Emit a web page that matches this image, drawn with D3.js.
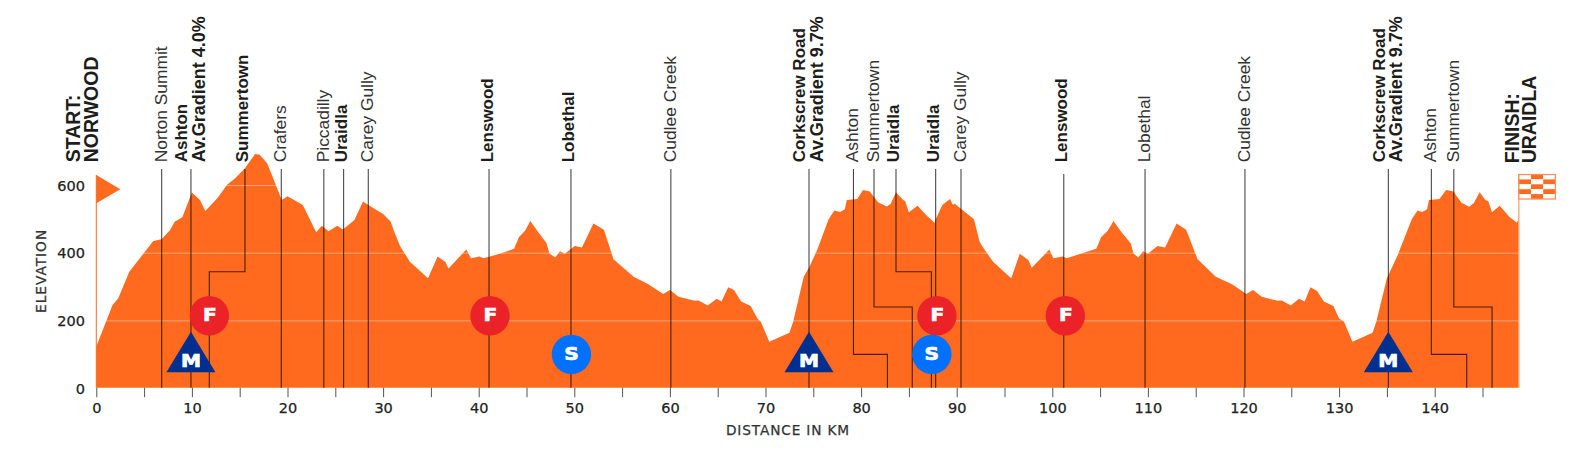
<!DOCTYPE html>
<html>
<head>
<meta charset="utf-8">
<script src="https://cdn.jsdelivr.net/npm/d3@7"></script>
<style>
  html, body { margin: 0; padding: 0; background: #fff; }
  svg { display: block; }
</style>
</head>
<body>
<div id="chart"></div>
<script>
// elevation profile
var profileKm = [0, 1.7, 2.3, 3.45, 5.96, 6.83, 7.7, 8.2, 9, 10, 10.85, 11.4, 12.66, 13.7, 14.5, 15.55, 16.6, 17.1, 17.9, 19.4, 20, 21.6, 23, 23.6, 24.3, 25.2, 25.8, 27, 27.9, 28.45, 30, 30.8, 31.1, 31.77, 32.8, 34.7, 35.7, 36.5, 36.85, 38.7, 39.2, 40.1, 40.5, 42.2, 43.7, 44.2, 44.85, 45.4, 46.2, 47.1, 47.4, 48, 48.5, 49, 50.05, 50.8, 52, 53.1, 54.1, 56.2, 57.75, 59.3, 60, 60.9, 62.6, 63, 63.95, 64.9, 65.4, 66.1, 66.7, 67.45, 68.45, 69.15, 69.5, 70.4, 72.5, 72.9, 74, 74.6, 75.4, 76.6, 77.2, 77.8, 78.3, 78.5, 79.6, 80.2, 80.9, 81.8, 82.7, 83.1, 83.65, 84.4, 84.6, 85, 85.9, 86.9, 87.7, 87.85, 88.5, 89.3, 89.6, 89.8, 91.8, 92.4, 92.7, 93.8, 95.7, 96.6, 97.5, 97.85, 99.7, 100.1, 101.1, 101.5, 104.6, 105.1, 105.8, 106.4, 107.2, 108.2, 108.5, 109, 109.5, 110, 111, 111.8, 113, 114, 115.2, 117.1, 118.8, 120.3, 121, 121.9, 123.6, 124, 124.95, 125.8, 126.4, 127, 127.7, 128.4, 129.4, 130, 130.5, 131.4, 133.5, 133.9, 135, 136.1, 137.6, 138.2, 138.7, 139.2, 139.4, 140.5, 141.2, 141.95, 142.8, 143.6, 144.1, 144.7, 145.3, 145.6, 146, 146.8, 147.8, 148.6, 148.8];
var profileElev = [124, 247, 267, 345, 436, 441, 468, 493, 506, 579, 557, 525, 562, 603, 621, 651, 693, 691, 664, 557, 568, 542, 462, 481, 465, 481, 470, 498, 553, 542, 516, 493, 468, 421, 375, 326, 390, 375, 355, 411, 385, 390, 385, 398, 413, 447, 466, 495, 463, 429, 399, 387, 406, 398, 421, 417, 488, 469, 382, 330, 308, 279, 291, 271, 259, 260, 245, 265, 257, 299, 291, 257, 244, 207, 198, 138, 165, 198, 330, 360, 409, 500, 526, 522, 530, 557, 560, 587, 582, 550, 538, 546, 580, 557, 554, 521, 540, 510, 490, 503, 542, 560, 543, 546, 500, 434, 419, 375, 326, 398, 380, 357, 411, 385, 390, 385, 413, 447, 466, 495, 463, 429, 399, 387, 406, 398, 421, 417, 488, 469, 382, 330, 308, 279, 291, 271, 259, 260, 245, 265, 257, 299, 288, 257, 244, 207, 198, 138, 165, 198, 326, 392, 500, 526, 522, 530, 557, 560, 587, 582, 549, 537, 548, 580, 557, 554, 521, 540, 508, 490, 503];

// leaders: label position on top, where the line lands on the baseline
var placeNames = [["Norton Summit"], ["Ashton", "Av.Gradient 4.0%"], ["Summertown"], ["Crafers"], ["Piccadilly"], ["Uraidla"], ["Carey Gully"], ["Lenswood"], ["Lobethal"], ["Cudlee Creek"], ["Corkscrew Road", "Av.Gradient 9.7%"], ["Ashton"], ["Summertown"], ["Uraidla"], ["Uraidla"], ["Carey Gully"], ["Lenswood"], ["Lobethal"], ["Cudlee Creek"], ["Corkscrew Road", "Av.Gradient 9.7%"], ["Ashton"], ["Summertown"]];
var placeBold  = [0, 1, 1, 0, 0, 1, 0, 1, 1, 0, 1, 0, 0, 1, 1, 0, 1, 0, 0, 1, 0, 0];
var placeKm    = [6.84, 9.9, 15.55, 19.35, 23.8, 25.87, 28.45, 41.08, 49.65, 60.1, 74.55, 79.2, 81.35, 83.65, 87.8, 90.45, 101.2, 109.7, 120.15, 135.15, 139.65, 142];
var placeEndKm = [6.84, 9.9, 11.82, 19.35, 23.8, 25.87, 28.45, 41.08, 49.65, 60.1, 74.55, 82.75, 85.35, 87.35, 87.8, 90.45, 101.2, 109.7, 120.15, 135.15, 143.35, 146];
var placeElbow = [0, 0, 345, 0, 0, 0, 0, 0, 0, 0, 0, 101, 241, 345, 0, 0, 0, 0, 0, 0, 101, 241];

var feedKm = [11.82, 41.18, 87.93, 101.36];
var sprintKm = [49.7, 87.4];
var climbKm = [9.9, 74.55, 135.15];

var startLabel = ["START:", "NORWOOD"];
var finishLabel = ["FINISH:", "URAIDLA"];
var xTicks = d3.range(0, 150, 5);
var xTickLabels = d3.range(0, 150, 10);
var yTicks = [0, 200, 400, 600];

var width = 1580, height = 461;
var orange = "#ff6a1f";
var labelFont = "'Liberation Sans', Arial, sans-serif";
var axisFont = "'DejaVu Sans', sans-serif";

var x = d3.scaleLinear().domain([0, 148.8]).range([96.3, 96.3 + 148.8 * 9.56]);
var y = d3.scaleLinear().domain([0, 600]).range([388.5, 185.5]);
var baseY = 387.7;

var svg = d3.select("#chart").append("svg").attr("width", width).attr("height", height);

// the area
var area = d3.area()
    .x(function(d) { return x(d[0]); })
    .y0(baseY)
    .y1(function(d) { return y(d[1]); });

svg.append("path")
    .datum(d3.zip(profileKm, profileElev))
    .attr("d", area)
    .attr("fill", orange);

// grid only shows on the orange
svg.append("g").selectAll("line")
    .data(yTicks.slice(1))
    .enter().append("line")
    .attr("x1", x(0)).attr("x2", x(148.8))
    .attr("y1", y).attr("y2", y)
    .attr("stroke", "#fff").attr("stroke-opacity", 0.4).attr("stroke-width", 1);

// axes
var xAxis = d3.axisBottom(x)
    .tickValues(xTicks)
    .tickSize(9.5)
    .tickSizeOuter(0)
    .tickFormat(function(d) { return xTickLabels.indexOf(d) >= 0 ? d : ""; });

var xg = svg.append("g").attr("transform", "translate(0," + baseY + ")").call(xAxis);
xg.select(".domain").remove();
xg.selectAll("line").attr("stroke", "#555");
xg.selectAll("text")
    .attr("y", 15)
    .attr("fill", "#222")
    .attr("stroke", "#222").attr("stroke-width", 0.25)
    .style("font-family", axisFont)
    .style("font-size", "14.5px");

var yAxis = d3.axisLeft(y).tickValues(yTicks).tickSize(0);
var yg = svg.append("g").attr("transform", "translate(96,0)").call(yAxis);
yg.select(".domain").remove();
yg.selectAll("text")
    .attr("x", -11)
    .attr("fill", "#222")
    .attr("stroke", "#222").attr("stroke-width", 0.25)
    .style("font-family", axisFont)
    .style("font-size", "14.5px");

svg.append("text")
    .attr("transform", "translate(45.5,313) rotate(-90)")
    .attr("fill", "#333")
    .attr("stroke", "#333").attr("stroke-width", 0.25)
    .style("font-family", axisFont)
    .style("font-size", "13.7px")
    .style("letter-spacing", "1px")
    .text("ELEVATION");

svg.append("text")
    .attr("x", 788).attr("y", 435)
    .attr("text-anchor", "middle")
    .attr("fill", "#333")
    .attr("stroke", "#333").attr("stroke-width", 0.25)
    .style("font-family", axisFont)
    .style("font-size", "13.7px")
    .style("letter-spacing", "0.85px")
    .text("DISTANCE IN KM");

// leader lines
var lineTop = 169;
placeKm.forEach(function(km, i) {
    var px = x(km), top = (km === 101.2) ? 174 : lineTop;
    var pts = [[px, top]];
    if (placeElbow[i] > 0) {
        pts.push([px, y(placeElbow[i])]);
        pts.push([x(placeEndKm[i]), y(placeElbow[i])]);
    }
    pts.push([x(placeEndKm[i]), baseY]);
    svg.append("path")
        .attr("d", d3.line()(pts))
        .attr("fill", "none")
        .attr("stroke", "#000")
        .attr("stroke-opacity", 0.72)
        .attr("stroke-width", 1.1);
});

// labels, rotated, baseline sits right of the line
function addLabel(px, lines, bold, sizes, bottom) {
    lines.forEach(function(t, j) {
        svg.append("text")
            .attr("transform", "translate(" + (px + j * 17.4) + "," + bottom + ") rotate(-90)")
            .attr("fill", bold ? "#1d1d1b" : "#333")
            .style("font-family", labelFont)
            .style("font-weight", bold ? "700" : "400")
            .style("font-size", sizes[j] + "px")
            .text(t);
    });
}
placeNames.forEach(function(lines, i) {
    var off = lines.length > 1 ? -3.5 : (placeBold[i] ? 3.5 : 5);
    addLabel(x(placeKm[i]) + off, lines, placeBold[i], placeBold[i] ? [17, 18] : [17.4], 162.3);
});
addLabel(x(0) - 16, startLabel, 1, [19.5, 19.5], 162.3);
addLabel(x(148.8), finishLabel, 1, [19.5, 19.5], 163.3);

// start flag
svg.append("line")
    .attr("x1", x(0)).attr("x2", x(0))
    .attr("y1", 175).attr("y2", baseY)
    .attr("stroke", orange).attr("stroke-width", 1);
svg.append("path")
    .attr("d", d3.line()([[x(0), 175], [x(0) + 24, 189.3], [x(0), 203.3]]) + "Z")
    .attr("fill", orange);

// finish flag
var flagX = x(148.8), flagY = 174.5, cellW = 36.6 / 3, cellH = 24.5 / 5;
svg.append("line")
    .attr("x1", flagX).attr("x2", flagX)
    .attr("y1", flagY).attr("y2", baseY)
    .attr("stroke", "#ffa777").attr("stroke-width", 1.4);
var flagCells = d3.cross([0, 1, 2], [0, 1, 2, 3, 4]);
svg.append("g").selectAll("rect")
    .data(flagCells)
    .enter().append("rect")
    .attr("x", function(d) { return flagX + d[0] * cellW; })
    .attr("y", function(d) { return flagY + d[1] * cellH; })
    .attr("width", cellW).attr("height", cellH)
    .attr("fill", function(d) { return (d[0] + d[1]) % 2 ? orange : "#fff"; });
svg.append("rect")
    .attr("x", flagX).attr("y", flagY)
    .attr("width", cellW * 3).attr("height", cellH * 5)
    .attr("fill", "none").attr("stroke", "#ff8f52").attr("stroke-width", 1.3);

// badges, the letters are stretched a bit to get the wide look
function badgeText(px, py, t) {
    svg.append("text")
        .attr("transform", "translate(" + px + "," + py + ") scale(1.15,1)")
        .attr("text-anchor", "middle")
        .attr("dominant-baseline", "central")
        .attr("fill", "#fff")
        .attr("stroke", "#fff").attr("stroke-width", 0.7)
        .style("font-family", axisFont)
        .style("font-weight", "700")
        .style("font-size", "17.5px")
        .text(t);
}
var feedElev = 215, sprintElev = 101;
climbKm.forEach(function(km) {
    var px = x(km);
    svg.append("path")
        .attr("d", d3.line()([[px, 331.7], [px + 24.5, 372.3], [px - 24.5, 372.3]]) + "Z")
        .attr("fill", "#00308f");
    badgeText(px, 360.5, "M");
});
feedKm.forEach(function(km) {
    svg.append("circle").attr("cx", x(km)).attr("cy", y(feedElev)).attr("r", 19.7).attr("fill", "#ec2229");
    badgeText(x(km) + 0.5, y(feedElev) - 0.5, "F");
});
sprintKm.forEach(function(km) {
    svg.append("circle").attr("cx", x(km)).attr("cy", y(sprintElev)).attr("r", 19.7).attr("fill", "#0070ff");
    badgeText(x(km), y(sprintElev) - 0.5, "S");
});
</script>
</body>
</html>
